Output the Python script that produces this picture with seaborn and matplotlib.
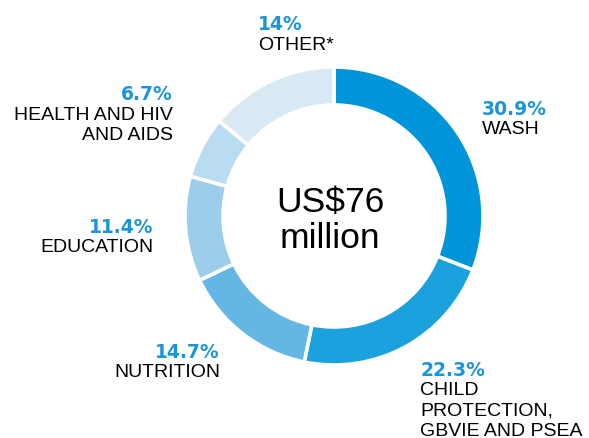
import matplotlib
matplotlib.use("Agg")
import matplotlib.pyplot as plt
import seaborn as sns

# Funding breakdown by programme area (share of total, %)
categories = ["WASH", "CHILD\nPROTECTION,\nGBVIE AND PSEA", "NUTRITION",
              "EDUCATION", "HEALTH AND HIV\nAND AIDS", "OTHER*"]
shares = [30.9, 22.3, 14.7, 11.4, 6.7, 14.0]
slice_colors = ["#0095DA", "#1BA2DE", "#64B7E4", "#9CCDEA", "#BADCF1", "#D8E9F4"]
total_label = "US$76\nmillion"

sns.set_theme(style="white")
plt.rcParams["font.family"] = ["Liberation Sans", "DejaVu Sans"]
palette = sns.color_palette(slice_colors)

W, H = 589, 439
fig = plt.figure(figsize=(W / 100, H / 100), dpi=100)
ax = fig.add_axes([0, 0, 1, 1])

cx, cy = 334, H - 217
ax.pie(shares, colors=palette, startangle=90, counterclock=False,
       center=(cx, cy), radius=149, frame=True,
       wedgeprops=dict(width=38, edgecolor="white", linewidth=2.6))
ax.set_xlim(0, W)
ax.set_ylim(0, H)
ax.set_aspect("equal")
ax.axis("off")

# label anchor (x, baseline of percentage, alignment) in pixel units
label_pos = [
    (482, 115, "left"),
    (420, 376, "left"),
    (220, 358, "right"),
    (153, 233, "right"),
    (173, 100, "right"),
    (258, 30, "left"),
]

pct_color = "#1B95D8"
for cat, val, (x, yb, ha) in zip(categories, shares, label_pos):
    ax.text(x, H - yb, f"{val:g}%", ha=ha, va="baseline", color=pct_color,
            fontsize=13.5, fontweight="bold", family=["DejaVu Sans"])
    for i, line in enumerate(cat.split("\n")):
        ax.text(x, H - (yb + 19.5 + 20.5 * i), line, ha=ha, va="baseline",
                color="#000000", fontsize=14)

for i, line in enumerate(total_label.split("\n")):
    ax.text(330, H - (212 + 36 * i), line, ha="center", va="baseline",
            color="#000000", fontsize=25.5)

fig.savefig("out.png", dpi=100)
